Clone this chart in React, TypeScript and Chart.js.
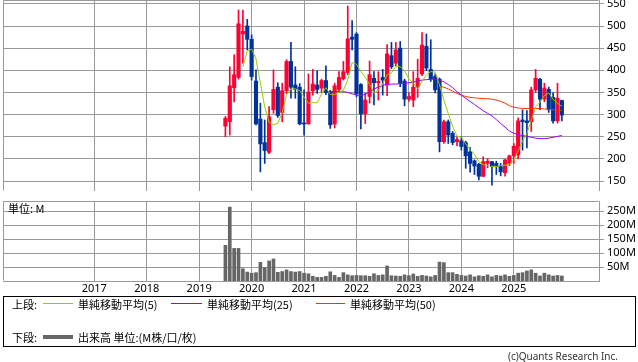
import React, { useEffect, useRef } from 'react';
import { Chart, registerables } from 'chart.js';

Chart.register(...registerables);

// Monthly candles, first candle = 2019-07 (index 0)
const startLabel = '2019-07';
const yearLabels = ['2017', '2018', '2019', '2020', '2021', '2022', '2023', '2024', '2025'];
// month index (relative to 2019-07) of each January grid line
const yearTickIndex = [-30, -18, -6, 6, 18, 30, 42, 54, 66];
const priceTicks = [150, 200, 250, 300, 350, 400, 450, 500, 550];
const volumeTicks = [50, 100, 150, 200, 250];

const opens = [
  274, 284, 361, 384, 482, 500, 470, 376, 290, 237,
  215, 311, 362, 305, 354, 420, 367, 362, 281, 279,
  354, 367, 360, 377, 352, 279, 357, 381, 395, 475,
  482, 368, 302, 341, 382, 372, 384, 367, 433, 416,
  450, 376, 335, 333, 362, 392, 454, 402, 386, 380,
  239, 284, 258, 239, 241, 237, 216, 196, 188, 161,
  190, 194, 190, 183, 169, 190, 207, 209, 288, 286,
  284, 356, 380, 335, 357, 339, 286, 332,
];
const highs = [
  296, 408, 435, 536, 536, 515, 480, 401, 326, 288,
  318, 401, 372, 371, 424, 463, 408, 370, 356, 392,
  402, 399, 380, 410, 355, 371, 397, 420, 545, 512,
  485, 370, 348, 421, 397, 397, 402, 458, 463, 463,
  465, 380, 350, 397, 425, 485, 482, 469, 392, 383,
  288, 288, 262, 250, 250, 240, 226, 198, 190, 205,
  201, 195, 195, 190, 199, 209, 235, 293, 311, 309,
  362, 402, 382, 371, 362, 350, 371, 333,
];
const lows = [
  250, 254, 329, 380, 416, 446, 378, 277, 171, 190,
  212, 303, 294, 284, 348, 337, 337, 277, 254, 279,
  344, 348, 350, 345, 269, 270, 350, 378, 390, 446,
  340, 268, 280, 326, 322, 333, 344, 343, 404, 410,
  363, 320, 330, 318, 339, 388, 399, 375, 349, 216,
  235, 235, 232, 230, 220, 179, 170, 165, 153, 160,
  180, 141, 165, 162, 161, 185, 190, 200, 220, 225,
  262, 350, 311, 329, 305, 281, 281, 286,
];
const closes = [
  292, 365, 390, 505, 488, 470, 386, 279, 234, 219,
  295, 357, 298, 354, 420, 362, 357, 279, 279, 351,
  369, 357, 377, 350, 277, 365, 384, 397, 471, 470,
  347, 302, 333, 390, 372, 375, 378, 437, 408, 446,
  371, 335, 341, 362, 382, 457, 405, 380, 356, 239,
  284, 254, 237, 244, 228, 207, 190, 184, 161, 194,
  195, 183, 183, 171, 198, 207, 229, 286, 284, 282,
  356, 382, 335, 360, 311, 286, 337, 299,
];
const ma5 = [
  null, null, null, null, 408, 443.6, 447.8, 425.6, 371.4, 317.6,
  282.6, 276.8, 280.6, 304.6, 344.8, 358.2, 358.2, 354.4, 339.4, 325.6,
  327, 327, 346.6, 360.8, 346, 345.2, 350.6, 354.6, 378.8, 417.4,
  413.8, 397.4, 384.6, 368.4, 348.8, 354.4, 369.6, 390.4, 394, 408.8,
  408, 399.4, 380.2, 371, 358.2, 375.4, 389.4, 397.2, 396, 367.4,
  332.8, 302.6, 274, 251.6, 249.4, 234, 221.2, 210.6, 194, 187.2,
  184.8, 183.4, 183.2, 185.2, 186, 188.4, 197.6, 218.2, 240.8, 257.6,
  287.4, 318, 327.8, 343, 348.8, 334.8, 325.8, 318.6,
];
const ma25 = [
  null, null, null, null, null, null, null, null, null, null,
  null, null, null, null, null, null, null, null, null, null,
  null, null, null, null, 352, 352, 352, 352, 350, 347,
  344, 343, 346, 352, 358, 362, 366, 368, 369, 369,
  370, 371, 372, 373, 376, 378, 379, 380, 380, 378,
  374, 368, 361, 352, 344, 337, 330, 323, 316, 309,
  303, 297, 289, 280, 272, 263, 258, 255, 253, 251,
  249, 247, 246, 246, 247, 249, 251, 253,
];
const ma50 = [
  null, null, null, null, null, null, null, null, null, null,
  null, null, null, null, null, null, null, null, null, null,
  null, null, null, null, null, null, null, null, null, null,
  null, null, null, null, null, null, null, null, null, null,
  null, null, null, null, null, null, null, null, null, 364,
  362, 358, 353, 348, 344, 341, 339, 338, 337, 336,
  336, 335, 333, 330, 326, 320, 317, 315, 314, 314,
  314, 314, 314, 313, 312, 311, 310, 310,
];
// volume, millions
const volumes = [
  128, 265, 117, 117, 44, 32,
  28, 30, 67, 48, 72, 79, 31, 34, 40, 34, 32, 34,
  28, 26, 17, 13, 13, 17, 33, 20, 13, 30, 22, 19,
  20, 19, 19, 17, 26, 20, 22, 54, 19, 18, 17, 22,
  19, 25, 17, 20, 18, 15, 20, 68, 66, 30, 30, 24,
  20, 18, 22, 15, 19, 17, 22, 15, 20, 18, 22, 17,
  20, 28, 30, 36, 40, 28, 18, 28, 22, 18, 20, 18,
];

const X_MIN = -50.9;
const X_MAX = 85.5;
const P_MIN = 127.8;
const P_MAX = 558.65;
const V_MAX = 287;

const GRID = '#999999';
const UP = '#ff0033';
const DOWN = '#003399';
const C_MA5 = '#99cc00';
const C_MA25 = '#9900ff';
const C_MA50 = '#ff3300';
const VOL = '#666666';
const TICK_FONT = { family: "'Noto Sans', 'DejaVu Sans', sans-serif", size: 11 };
const JP_FONT = "'Noto Sans CJK JP', 'Noto Sans', sans-serif";

const framePlugin = {
  id: 'frame',
  beforeDatasetsDraw(chart: any) {
    const { ctx, chartArea: a } = chart;
    ctx.save();
    ctx.strokeStyle = GRID;
    ctx.lineWidth = 1;
    ctx.beginPath();
    const l = Math.round(a.left) + 0.5;
    const t = Math.round(a.top) + 0.5;
    const r = Math.round(a.right) - 0.5;
    const b = Math.round(a.bottom) - 0.5;
    ctx.moveTo(l, b);
    ctx.lineTo(l, t);
    ctx.lineTo(r, t);
    ctx.stroke();
    ctx.restore();
  },
};

function lineData(arr: (number | null)[]) {
  const out: { x: number; y: number }[] = [];
  arr.forEach((v, i) => {
    if (v !== null) out.push({ x: i, y: v });
  });
  return out;
}

function xScale(showLabels: boolean, height: number) {
  return {
    type: 'linear',
    min: X_MIN,
    max: X_MAX,
    offset: false,
    afterBuildTicks: (s: any) => {
      s.ticks = yearTickIndex.map((v) => ({ value: v }));
    },
    ticks: {
      display: showLabels,
      autoSkip: false,
      maxRotation: 0,
      padding: 1,
      color: '#000',
      font: TICK_FONT,
      callback: (v: any) => yearLabels[yearTickIndex.indexOf(v)] ?? '',
    },
    grid: { color: GRID, drawTicks: false, offset: false, lineWidth: 1 },
    border: { color: GRID },
    afterFit: (s: any) => {
      s.height = height;
    },
  };
}

export default function App() {
  const priceRef = useRef<HTMLCanvasElement>(null);
  const volRef = useRef<HTMLCanvasElement>(null);

  useEffect(() => {
    document.body.style.margin = '0';
    const idx = closes.map((_, i) => i);
    const colors = idx.map((i) => (closes[i] >= opens[i] ? UP : DOWN));

    const price = new Chart(priceRef.current as HTMLCanvasElement, {
      type: 'bar',
      data: {
        datasets: [
          { type: 'line', label: 'ma5', data: lineData(ma5), borderColor: C_MA5, borderWidth: 1, pointRadius: 0, fill: false, tension: 0 } as any,
          { type: 'line', label: 'ma25', data: lineData(ma25), borderColor: C_MA25, borderWidth: 1, pointRadius: 0, fill: false, tension: 0 } as any,
          { type: 'line', label: 'ma50', data: lineData(ma50), borderColor: C_MA50, borderWidth: 1, pointRadius: 0, fill: false, tension: 0 } as any,
          {
            type: 'bar',
            label: 'body',
            data: idx.map((i) => ({ x: i, y: [opens[i], closes[i]] })),
            backgroundColor: colors,
            barThickness: 3.5,
            grouped: false,
            minBarLength: 1,
          } as any,
          {
            type: 'bar',
            label: 'wick',
            data: idx.map((i) => ({ x: i, y: [lows[i], highs[i]] })),
            backgroundColor: colors,
            barThickness: 1,
            grouped: false,
          } as any,
        ],
      },
      options: {
        animation: false,
        responsive: false,
        devicePixelRatio: 1,
        layout: { padding: { left: 3, top: 10, right: 0, bottom: 0 } },
        plugins: { legend: { display: false }, tooltip: { enabled: false } },
        scales: {
          x: xScale(false, 0) as any,
          y: {
            type: 'linear',
            position: 'right',
            min: P_MIN,
            max: P_MAX,
            afterBuildTicks: (s: any) => {
              s.ticks = priceTicks.map((v) => ({ value: v }));
            },
            ticks: { color: '#000', font: TICK_FONT, padding: 3 },
            grid: { color: GRID, tickLength: 5 },
            border: { color: GRID },
            afterFit: (s: any) => {
              s.width = 39;
              s.paddingTop = 0;
              s.paddingBottom = 0;
            },
          } as any,
        },
      },
      plugins: [framePlugin],
    });

    const vol = new Chart(volRef.current as HTMLCanvasElement, {
      type: 'bar',
      data: {
        datasets: [
          {
            label: 'volume',
            data: idx.map((i) => ({ x: i, y: volumes[i] })),
            backgroundColor: VOL,
            barThickness: 3,
            grouped: false,
          } as any,
        ],
      },
      options: {
        animation: false,
        responsive: false,
        devicePixelRatio: 1,
        layout: { padding: { left: 3, top: 10, right: 0, bottom: 0 } },
        plugins: { legend: { display: false }, tooltip: { enabled: false } },
        scales: {
          x: xScale(true, 20) as any,
          y: {
            type: 'linear',
            position: 'right',
            min: 0,
            max: V_MAX,
            afterBuildTicks: (s: any) => {
              s.ticks = volumeTicks.map((v) => ({ value: v }));
            },
            ticks: { color: '#000', font: TICK_FONT, padding: 3, callback: (v: any) => v + 'M' },
            grid: { color: GRID, tickLength: 5 },
            border: { color: GRID },
            afterFit: (s: any) => {
              s.width = 39;
              s.paddingTop = 0;
              s.paddingBottom = 0;
            },
          } as any,
        },
      },
      plugins: [framePlugin],
    });

    return () => {
      price.destroy();
      vol.destroy();
    };
  }, []);

  const txt: React.CSSProperties = {
    position: 'absolute',
    fontFamily: JP_FONT,
    fontSize: 11,
    lineHeight: '14px',
    color: '#000',
    whiteSpace: 'nowrap',
  };

  return (
    <div
      data-start={startLabel}
      style={{ position: 'absolute', left: 0, top: 0, width: 638, height: 362, overflow: 'hidden', background: '#fff' }}
    >
      <canvas ref={priceRef} width={638} height={201} style={{ position: 'absolute', left: 0, top: -10, display: 'block' }} />
      <canvas ref={volRef} width={638} height={110} style={{ position: 'absolute', left: 0, top: 191, display: 'block' }} />
      <div style={{ ...txt, left: 8, top: 201 }}>単位: M</div>

      <div
        style={{ position: 'absolute', left: 3, top: 296, width: 633, height: 51, border: '1px solid #000', boxSizing: 'border-box' }}
      />
      <div style={{ ...txt, left: 12, top: 297 }}>上段:</div>
      <div style={{ position: 'absolute', left: 43, top: 303, width: 30, height: 1, background: C_MA5 }} />
      <div style={{ ...txt, left: 78, top: 297 }}>単純移動平均(5)</div>
      <div style={{ position: 'absolute', left: 171, top: 303, width: 31, height: 1, background: C_MA25 }} />
      <div style={{ ...txt, left: 207, top: 297 }}>単純移動平均(25)</div>
      <div style={{ position: 'absolute', left: 316, top: 303, width: 29, height: 1, background: C_MA50 }} />
      <div style={{ ...txt, left: 350, top: 297 }}>単純移動平均(50)</div>

      <div style={{ ...txt, left: 12, top: 330 }}>下段:</div>
      <div style={{ position: 'absolute', left: 43, top: 335, width: 30, height: 4, background: VOL }} />
      <div style={{ ...txt, left: 78, top: 330 }}>出来高 単位:(M株/口/枚)</div>

      <div
        style={{
          position: 'absolute',
          right: 20,
          top: 350,
          fontFamily: "'Noto Sans', sans-serif",
          fontSize: 10,
          lineHeight: '13px',
          color: '#333',
          whiteSpace: 'nowrap',
        }}
      >
        (c)Quants Research Inc.
      </div>
    </div>
  );
}
